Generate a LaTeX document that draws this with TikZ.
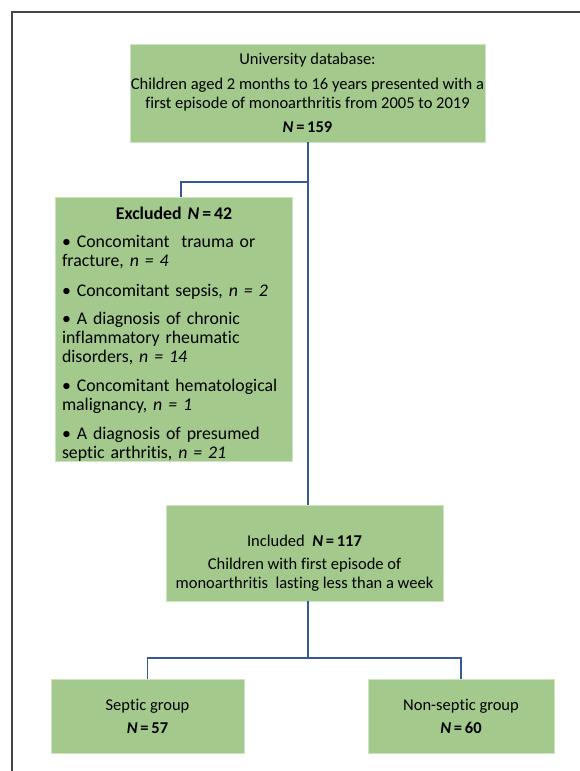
\documentclass[tikz,border=0pt]{standalone}
\usepackage{fontspec}
\setmainfont{Carlito}[Ligatures=NoCommon]
\definecolor{boxgreen}{RGB}{163,202,140}
\definecolor{boxedge}{RGB}{205,228,192}
\definecolor{linkblue}{RGB}{52,88,155}
\definecolor{framegray}{RGB}{70,70,70}
\tikzset{
  gbox/.style={draw=boxedge, line width=0.8pt, fill=boxgreen, inner sep=0pt, text=black, align=center},
  link/.style={draw=linkblue, line width=1.6pt},
  frameline/.style={draw=framegray, line width=2pt},
  bodyfont/.style={font=\fontsize{16.5}{19}\selectfont}
}
\begin{document}
\begin{tikzpicture}[x=1pt,y=-1pt]
\useasboundingbox (0,0) rectangle (580,771);
\draw[frameline] (12,771) -- (12,12) -- (580,12);

\node[gbox, bodyfont, minimum width=355pt, minimum height=98pt] (top) at (307.5,93)
  {University database:\\[6pt]
   Children aged 2 months to 16 years presented with a\\
   first episode of monoarthritis from 2005 to 2019\\[5pt]
   \textbf{\textit{N}\,=\,159}};

\node[gbox, minimum width=237pt, minimum height=262pt, text width=224pt, align=left, font=\fontsize{17.8}{19}\selectfont] (excl) at (174,329)
  {\rule{0pt}{22pt}\hfill\textbf{Excluded \textit{N}\,=\,42}\hfill\null\\[9pt]
   • Concomitant\ \ trauma or\\
   fracture, \textit{n = 4}\\[11pt]
   • Concomitant sepsis, \textit{n = 2}\\[9pt]
   • A diagnosis of chronic\\
   inflammatory rheumatic\\
   disorders, \textit{n = 14}\\[10pt]
   • Concomitant hematological\\
   malignancy, \textit{n = 1}\\[10pt]
   • A diagnosis of presumed\\
   septic arthritis, \textit{n = 21}};

\node[gbox, bodyfont, minimum width=277pt, minimum height=96pt] (incl) at (304.5,553)
  {\rule{0pt}{32pt}Included\ \ \textbf{\textit{N}\,=\,117}\\[4pt]
   Children with first episode of\\
   monoarthritis\ \ lasting less than a week};

\node[gbox, bodyfont, minimum width=193pt, minimum height=74pt] (sep) at (147.5,716)
  {Septic group\\[4pt]\textbf{\textit{N}\,=\,57}};

\node[gbox, bodyfont, minimum width=186pt, minimum height=74pt] (nsep) at (461,716)
  {Non-septic group\\[4pt]\textbf{\textit{N}\,=\,60}};

\coordinate (j1) at (308,182);
\coordinate (j2) at (308,658);

\draw[link] (top.south -| j1) -- (incl.north -| j1);
\draw[link] (j1) -| (excl.north -| 181,0);
\draw[link] (incl.south -| j2) -- (j2);
\draw[link] (sep.north) |- (j2) -| (nsep.north);
\end{tikzpicture}
\end{document}
